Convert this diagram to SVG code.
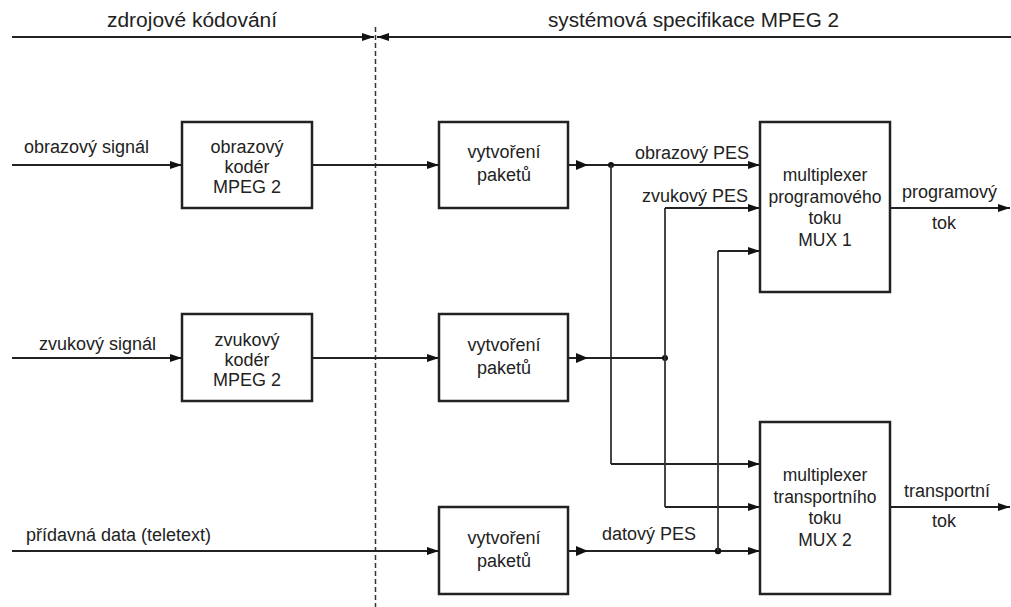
<svg xmlns="http://www.w3.org/2000/svg" width="1011" height="607" viewBox="0 0 1011 607">
<style>
  text { font-family: "Liberation Sans", Arial, sans-serif; fill: #222; }
  .hdr { font-size: 20px; }
  .lbl { font-size: 18px; }
  .box { font-size: 18px; text-anchor: middle; }
  .mux { font-size: 17.5px; text-anchor: middle; }
  .nb { fill: #fff; stroke: #222; stroke-width: 2.5; }
  .ln { fill: none; stroke: #222; stroke-width: 2; }
  .vl { fill: none; stroke: #333; stroke-width: 1.8; }
  .ar { marker-end: url(#ah); }
  .dot { fill: #111; }
  .tri { fill: #111; }
</style>
<defs>
  <marker id="ah" viewBox="0 0 12 8" refX="12" refY="4" markerWidth="12" markerHeight="8" markerUnits="userSpaceOnUse" orient="auto">
    <path d="M0,0 L12,4 L0,8 Z" fill="#111"/>
  </marker>
</defs>
<rect x="0" y="0" width="1011" height="607" style="fill:#fff;stroke:none"/>

<g id="headers">
  <text class="hdr" x="107" y="27" textLength="170" lengthAdjust="spacingAndGlyphs">zdrojové kódování</text>
  <text class="hdr" x="548" y="27" textLength="291" lengthAdjust="spacingAndGlyphs">systémová specifikace MPEG 2</text>
</g>

<g id="connectors">
  <path class="ln ar" d="M12,37 H374"/>
  <path class="ln ar" d="M1011,37 H377"/>
  <path d="M375.5,27 V607" fill="none" stroke="#333" stroke-width="1.5" stroke-dasharray="5,3"/>

  <path class="ln ar" d="M12,165 H182"/>
  <path class="ln ar" d="M312,165 H439"/>
  <path class="ln" d="M568,165 H588"/>
  <polygon class="tri" points="576,160 588,165 576,170"/>
  <path class="ln ar" d="M588,165 H760"/>
  <circle class="dot" cx="611" cy="165" r="3"/>
  <path class="vl" d="M611,165 V464"/>
  <path class="ln ar" d="M611,464 H760"/>

  <path class="ln ar" d="M12,358 H182"/>
  <path class="ln ar" d="M312,358 H439"/>
  <path class="ln" d="M568,358 H665"/>
  <polygon class="tri" points="576,353 588,358 576,363"/>
  <circle class="dot" cx="665" cy="358" r="3"/>
  <path class="vl" d="M665,208 V507"/>
  <path class="ln ar" d="M665,208 H760"/>
  <path class="ln ar" d="M665,507 H760"/>

  <path class="ln ar" d="M12,551 H439"/>
  <path class="ln" d="M568,551 H588"/>
  <polygon class="tri" points="576,546 588,551 576,556"/>
  <path class="ln ar" d="M588,551 H760"/>
  <circle class="dot" cx="718" cy="551" r="3.2"/>
  <path class="vl" d="M718,251 V551"/>
  <path class="ln ar" d="M718,251 H760"/>

  <path class="ln ar" d="M890,208 H1010"/>
  <path class="ln ar" d="M890,507 H1010"/>
</g>

<g id="labels">
  <text class="lbl" x="24" y="153">obrazový signál</text>
  <text class="lbl" x="39" y="350">zvukový signál</text>
  <text class="lbl" x="26" y="541">přídavná data (teletext)</text>
  <text class="lbl" x="635" y="159">obrazový PES</text>
  <text class="lbl" x="748" y="202" text-anchor="end">zvukový PES</text>
  <text class="lbl" x="602" y="540">datový PES</text>
  <text class="lbl" x="902" y="198">programový</text>
  <text class="lbl" x="932" y="229">tok</text>
  <text class="lbl" x="904" y="497">transportní</text>
  <text class="lbl" x="932" y="527">tok</text>
</g>

<g id="video-encoder">
  <rect class="nb" x="182" y="122" width="130" height="86"/>
  <text class="box" x="247" y="153">obrazový</text>
  <text class="box" x="247" y="173">kodér</text>
  <text class="box" x="247" y="193">MPEG 2</text>
</g>

<g id="audio-encoder">
  <rect class="nb" x="182" y="314" width="130" height="87"/>
  <text class="box" x="247" y="346">zvukový</text>
  <text class="box" x="247" y="366">kodér</text>
  <text class="box" x="247" y="386">MPEG 2</text>
</g>

<g id="packetizer-video">
  <rect class="nb" x="439" y="122" width="129" height="86"/>
  <text class="box" x="504" y="158">vytvoření</text>
  <text class="box" x="504" y="181">paketů</text>
</g>

<g id="packetizer-audio">
  <rect class="nb" x="439" y="314" width="129" height="87"/>
  <text class="box" x="504" y="351">vytvoření</text>
  <text class="box" x="504" y="374">paketů</text>
</g>

<g id="packetizer-data">
  <rect class="nb" x="439" y="507" width="129" height="87"/>
  <text class="box" x="504" y="544">vytvoření</text>
  <text class="box" x="504" y="567">paketů</text>
</g>

<g id="mux1">
  <rect class="nb" x="760" y="122" width="130" height="170"/>
  <text class="mux" x="825" y="181">multiplexer</text>
  <text class="mux" x="825" y="203">programového</text>
  <text class="mux" x="825" y="224">toku</text>
  <text class="mux" x="825" y="246">MUX 1</text>
</g>

<g id="mux2">
  <rect class="nb" x="760" y="422" width="130" height="172"/>
  <text class="mux" x="825" y="481">multiplexer</text>
  <text class="mux" x="825" y="503">transportního</text>
  <text class="mux" x="825" y="524">toku</text>
  <text class="mux" x="825" y="546">MUX 2</text>
</g>
</svg>
